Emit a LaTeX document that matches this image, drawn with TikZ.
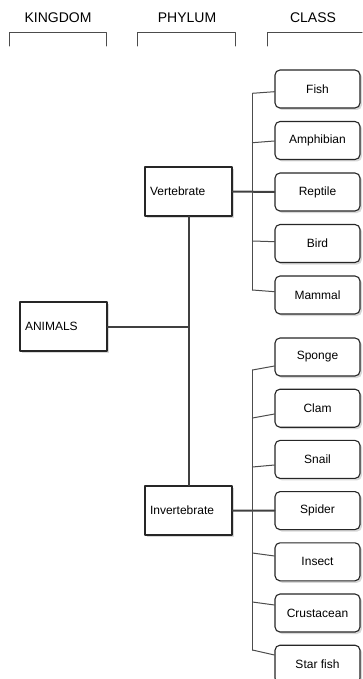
\documentclass[tikz,border=0pt]{standalone}
\usepackage{fontspec}
\setmainfont{Liberation Sans}
\usetikzlibrary{shadows,calc}

\tikzset{
	boxshadow/.style={drop shadow={shadow xshift=2pt,shadow yshift=-2pt,fill=black!30}},
	phylbox/.style={draw=black!85,line width=1.1pt,fill=white,boxshadow,minimum height=49pt,inner xsep=5pt,text width=77pt,align=left,font=\fontsize{12}{14}\selectfont},
	classbox/.style={draw=black!85,line width=1.1pt,rounded corners=5pt,fill=white,boxshadow,minimum width=85pt,minimum height=38pt,inner sep=0pt,font=\fontsize{12}{14}\selectfont},
	header/.style={font=\fontsize{14}{16}\selectfont},
	thickline/.style={line width=2.pt,color=black!75},
	thinline/.style={line width=1.pt,color=black!70}
}

\begin{document}
\begin{tikzpicture}[line cap=round,line join=round,x=1pt,y=-1pt]
				\useasboundingbox (0,0) rectangle (362,679);
				% column headings
				\node[header] (kingdom) at (58,17.5) {KINGDOM};
				\node[header] (phylum) at (187,17.5) {PHYLUM};
				\node[header] (class) at (313,17.5) {CLASS};
				\draw [thinline] (9,46) -- (9,33) -- (106,33) -- (106,46);
				\draw [thinline] (137,46) -- (137,33) -- (235,33) -- (235,46);
				\draw [thinline] (267,46) -- (267,33) -- (362,33);
				% kingdom and phyla
				\node[phylbox] (animals) at (63.5,326.5) {ANIMALS};
				\node[phylbox] (vert) at (188.5,191.5) {Vertebrate};
				\node[phylbox] (invert) at (188.5,510.5) {Invertebrate};
				% classes
				\foreach \n/\t/\yy in {fish/Fish/89,amph/Amphibian/140.5,rept/Reptile/192,bird/Bird/243.5,mamm/Mammal/295}
					\node[classbox] (\n) at (317.5,\yy) {\t};
				\foreach \n/\t/\yy in {spon/Sponge/357,clam/Clam/408.2,snail/Snail/459.4,spid/Spider/510.6,ins/Insect/561.8,crus/Crustacean/613,star/Star fish/664.2}
					\node[classbox] (\n) at (317.5,\yy) {\t};
				% phylum lines
				\draw [thickline] (animals.east) -- (animals.east -| vert.south);
				\draw [thickline] (vert.south) -- (invert.north);
				\draw [thickline] (vert.east) -- (rept.west);
				\draw [thickline] (invert.east) -- (spid.west);
				% class lines
				\foreach \n/\a/\b in {fish/2.7/4.3,amph/0.5/2.2,bird/-1.8/-2.5,mamm/-3.3/-5}
					\draw [thinline] ($(\n.west)+(0,\a)$) -- ($(\n.west)+(-22,\b)$) coordinate (\n-t);
				\draw [thinline] (fish-t) -- (mamm-t);
				\foreach \n/\a/\b in {spon/9/13,clam/5.8/9.8,snail/5.6/7.6,ins/-5.8/-8.8,crus/-8/-11,star/-9.2/-14.2}
					\draw [thinline] ($(\n.west)+(0,\a)$) -- ($(\n.west)+(-22,\b)$) coordinate (\n-t);
				\draw [thinline] (spon-t) -- (star-t);
\end{tikzpicture}
\end{document}
